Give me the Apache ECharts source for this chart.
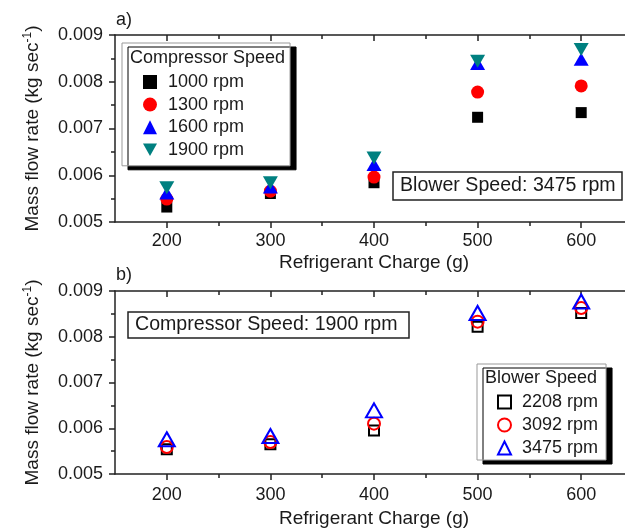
<!DOCTYPE html>
<html>
<head>
<meta charset="utf-8">
<script src="https://cdn.jsdelivr.net/npm/echarts@6/dist/echarts.min.js"></script>
<style>
  html, body { margin: 0; padding: 0; background: #fff; overflow: hidden; }
  #chart { width: 640px; height: 529px; }
</style>
</head>
<body>
<div id="chart"></div>
<script>
// Mass flow rate vs refrigerant charge, two stacked panels.
// The frame runs a little past the right edge of the window, as in the source figure.

const charges = [200, 300, 400, 500, 600];
const majorTicks = [200, 300, 400, 500, 600];
const minorTicks = [250, 350, 450, 550];

// a) compressor speed sweep, blower at 3475 rpm
const comp1000 = [0.00532, 0.00561, 0.00584, 0.00724, 0.00734];
const comp1300 = [0.00549, 0.00566, 0.00596, 0.00778, 0.00791];
const comp1600 = [0.00562, 0.00575, 0.00623, 0.00839, 0.00848];
const comp1900 = [0.00573, 0.00584, 0.00637, 0.00844, 0.00869];

// b) blower speed sweep, compressor at 1900 rpm
const blow2208 = [0.00554, 0.00565, 0.00595, 0.00822, 0.00852];
const blow3092 = [0.00559, 0.00570, 0.00610, 0.00833, 0.00863];
const blow3475 = [0.00576, 0.00583, 0.00639, 0.00852, 0.00877];

const FONT = '"Liberation Sans", Arial, sans-serif';
const INK = '#1a1a1a';
const TICK = { color: '#222', width: 1.5 };
const AXIS_LINE = { show: true, onZero: false, lineStyle: { color: '#222', width: 1.5 } };
const DOWN_TRI = 'path://M0,0L10,0L5,9Z';

const pts = (vals) => charges.map((c, i) => [c, vals[i]]);

function xAxes(grid, nameGap, margin) {
  const base = { type: 'value', gridIndex: grid, min: 150, max: 650, splitLine: { show: false },
    axisLine: AXIS_LINE };
  return [
    { ...base, position: 'bottom',
      name: 'Refrigerant Charge (g)', nameLocation: 'middle', nameGap,
      nameTextStyle: { fontSize: 19, fontFamily: FONT, color: INK },
      axisTick: { customValues: majorTicks, length: 6, lineStyle: TICK },
      axisLabel: { customValues: majorTicks, fontSize: 18, fontFamily: FONT, color: INK, margin } },
    { ...base, position: 'bottom', axisLine: { show: false }, axisLabel: { show: false },
      axisTick: { customValues: minorTicks, length: 4, lineStyle: TICK } },
    { ...base, position: 'top', axisLabel: { show: false },
      axisTick: { customValues: majorTicks, inside: true, length: 6, lineStyle: TICK } },
    { ...base, position: 'top', axisLine: { show: false }, axisLabel: { show: false },
      axisTick: { customValues: minorTicks, inside: true, length: 4, lineStyle: TICK } },
  ];
}

function yAxes(grid) {
  const base = { type: 'value', gridIndex: grid, min: 0.005, max: 0.009, interval: 0.001,
    splitLine: { show: false }, axisLine: AXIS_LINE,
    minorTick: { show: true, splitNumber: 2, length: 4, lineStyle: TICK } };
  return [
    { ...base, position: 'left',
      name: '{a|Mass flow rate (kg sec}{s|-1}{a|)}', nameLocation: 'middle', nameGap: 72, nameRotate: 90,
      nameTextStyle: { fontSize: 19, fontFamily: FONT, color: INK,
        rich: { a: { fontSize: 19, fontFamily: FONT, color: INK },
                s: { fontSize: 12, fontFamily: FONT, color: INK, verticalAlign: 'top', padding: [0, 0, 9, 0] } } },
      axisTick: { length: 6, lineStyle: TICK },
      axisLabel: { fontSize: 18, fontFamily: FONT, color: INK, margin: 12, formatter: (v) => v.toFixed(3) } },
    { ...base, position: 'right', axisLabel: { show: false },
      axisTick: { inside: true, length: 6, lineStyle: TICK } },
  ];
}

function filled(name, vals, symbol, size, color) {
  return { name, type: 'scatter', xAxisIndex: 0, yAxisIndex: 0, data: pts(vals),
    symbol, symbolSize: size, itemStyle: { color, opacity: 1 } };
}
function hollow(name, vals, symbol, size, color) {
  return { name, type: 'scatter', xAxisIndex: 4, yAxisIndex: 2, data: pts(vals),
    symbol, symbolSize: size, itemStyle: { color: 'rgba(255,255,255,0)', borderColor: color, borderWidth: 2, opacity: 1 } };
}

const boxText = (text, left, top, padding) => ({
  text, left, top, padding, backgroundColor: '#fff', borderColor: '#222', borderWidth: 1.5,
  textStyle: { fontSize: 19.6, fontWeight: 'normal', fontFamily: FONT, color: INK },
});
const plainText = (text, left, top) => ({
  text, left, top, padding: 0,
  textStyle: { fontSize: 18, fontWeight: 'normal', fontFamily: FONT, color: INK },
});

const legendBase = {
  orient: 'vertical', selectedMode: false,
  backgroundColor: '#fff', borderColor: '#999', borderWidth: 1,
  shadowColor: '#000', shadowBlur: 0, shadowOffsetX: 6, shadowOffsetY: 4,
  textStyle: { fontSize: 18, fontFamily: FONT, color: INK, padding: [0, 0, 0, 6] },
};

const chart = echarts.init(document.getElementById('chart'), null, { renderer: 'canvas' });
chart.setOption({
  animation: false,
  backgroundColor: '#fff',
  grid: [
    { left: 115, top: 35, width: 518, height: 187 },
    { left: 115, top: 291, width: 518, height: 184 },
  ],
  xAxis: [...xAxes(0, 31, 10), ...xAxes(1, 35, 12)],
  yAxis: [...yAxes(0), ...yAxes(1)],
  title: [
    plainText('a)', 116, 11),
    plainText('b)', 116, 266),
    boxText('Blower Speed: 3475 rpm', 393, 172, [4, 7, 4, 7]),
    boxText('Compressor Speed: 1900 rpm', 128, 312, [3, 12, 3, 7]),
    plainText('Compressor Speed', 130, 49),
    plainText('Blower Speed', 485, 369),
  ],
  legend: [
    { ...legendBase, left: 122, top: 43, padding: [30, 46, 7, 21], itemWidth: 14, itemHeight: 14, itemGap: 4.6,
      data: [{ name: '1000 rpm', icon: 'rect' }, { name: '1300 rpm', icon: 'circle' },
             { name: '1600 rpm', icon: 'triangle' }, { name: '1900 rpm', icon: DOWN_TRI }] },
    { ...legendBase, left: 477, top: 364, padding: [29, 8, 3, 20], itemWidth: 13, itemHeight: 13, itemGap: 5,
      data: [{ name: '2208 rpm', icon: 'rect' }, { name: '3092 rpm', icon: 'circle' },
             { name: '3475 rpm', icon: 'triangle' }] },
  ],
  series: [
    filled('1000 rpm', comp1000, 'rect', 11, '#000000'),
    filled('1300 rpm', comp1300, 'circle', 13, '#ff0000'),
    filled('1600 rpm', comp1600, 'triangle', [15, 13], '#0000ff'),
    filled('1900 rpm', comp1900, DOWN_TRI, [15, 13], '#008080'),
    hollow('2208 rpm', blow2208, 'rect', 10, '#000000'),
    hollow('3092 rpm', blow3092, 'circle', 12, '#ff0000'),
    hollow('3475 rpm', blow3475, 'triangle', [16, 14], '#0000ff'),
  ],
});
</script>
</body>
</html>
